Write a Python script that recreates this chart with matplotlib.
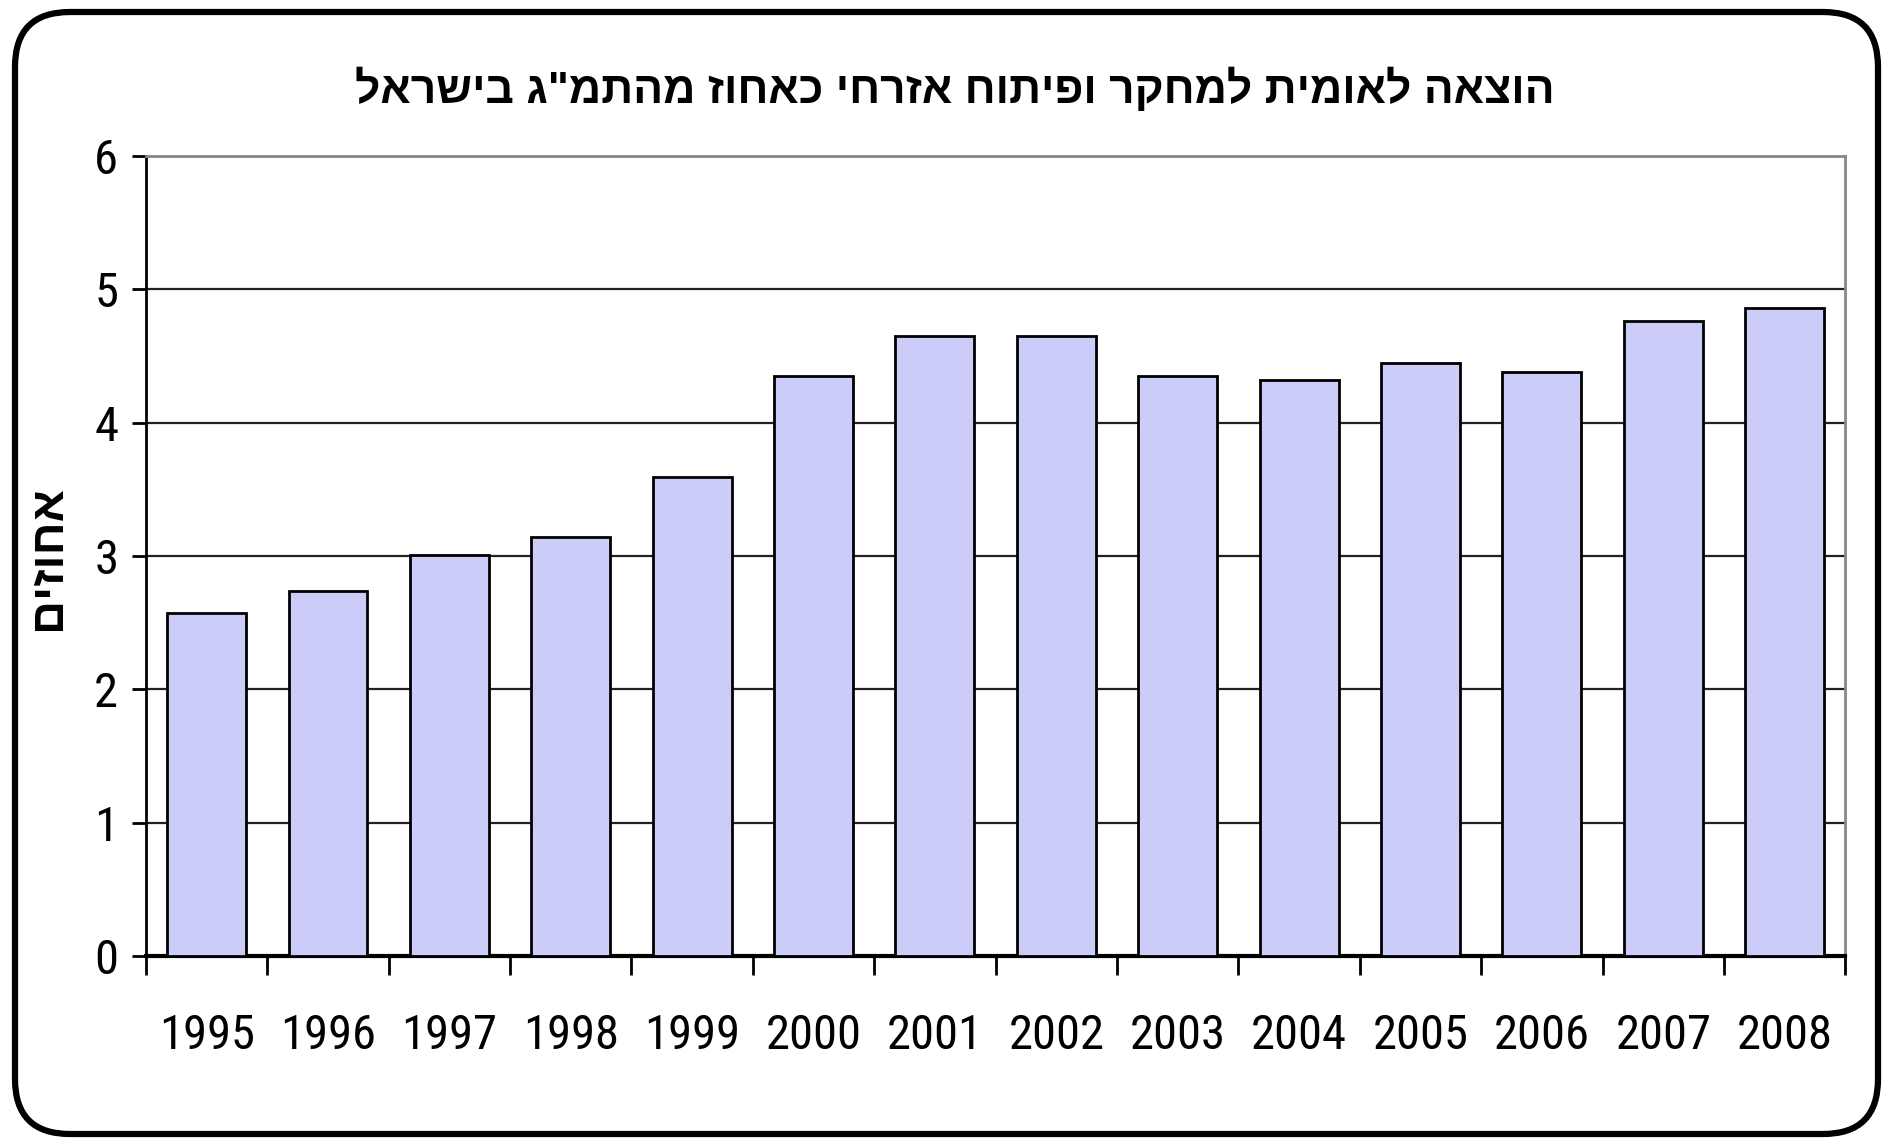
from matplotlib import pyplot as plt
from matplotlib.patches import FancyBboxPatch
from matplotlib.transforms import IdentityTransform
import numpy as np

years = ['1995', '1996', '1997', '1998', '1999', '2000', '2001',
         '2002', '2003', '2004', '2005', '2006', '2007', '2008']
values = [2.57, 2.74, 3.01, 3.14, 3.59, 4.35, 4.65,
          4.65, 4.35, 4.32, 4.45, 4.38, 4.76, 4.86]
title = 'הוצאה לאומית למחקר ופיתוח אזרחי כאחוז מהתמ"ג בישראל'
ylabel = 'אחוזים'

# matplotlib has no bidi, so hebrew goes in visual order
def visual(s):
    return s[::-1]

plt.rcParams['font.family'] = ['Roboto Condensed', 'Liberation Sans', 'DejaVu Sans']
heb = ['Liberation Sans', 'DejaVu Sans']

fig = plt.figure(figsize=(18.83, 11.4), dpi=100)
ax = fig.add_axes([0.0775, 0.1614, 0.9025, 0.7018])

x = np.arange(len(years))
ax.bar(x, values, width=0.65, color='#CCCCF8', edgecolor='black', linewidth=2, zorder=3)

ax.set_xlim(-0.5, len(years) - 0.5)
ax.set_ylim(0, 6)
ax.set_yticks(range(0, 7))
ax.yaxis.grid(True, color='#222222', linewidth=1.6, zorder=0)
ax.set_xticks(x)
ax.set_xticklabels(years)
ax.set_xticks(np.arange(-0.5, len(years)), minor=True)
ax.tick_params(axis='x', which='major', length=0, pad=41, labelsize=35)
ax.tick_params(axis='x', which='minor', length=14, width=2, direction='out')
ax.tick_params(axis='y', length=10, width=2, pad=10, labelsize=35)

for side in ['top', 'right']:
    ax.spines[side].set_color('#888888')
    ax.spines[side].set_linewidth(2)
ax.spines['left'].set_linewidth(2)
ax.spines['bottom'].set_linewidth(3)

fig.text(0.507, 0.921, visual(title), ha='center', va='center',
         fontsize=32, fontweight='bold', family=heb)
fig.text(0.0255, 0.511, visual(ylabel), ha='center', va='center', rotation=90,
         fontsize=34, fontweight='bold', family=heb)

frame = FancyBboxPatch((15, 6), 1863, 1122, boxstyle='round,pad=0,rounding_size=55',
                       transform=IdentityTransform(), facecolor='none',
                       edgecolor='black', linewidth=4.5)
fig.patches.append(frame)

fig.savefig('out.png', dpi=100)
